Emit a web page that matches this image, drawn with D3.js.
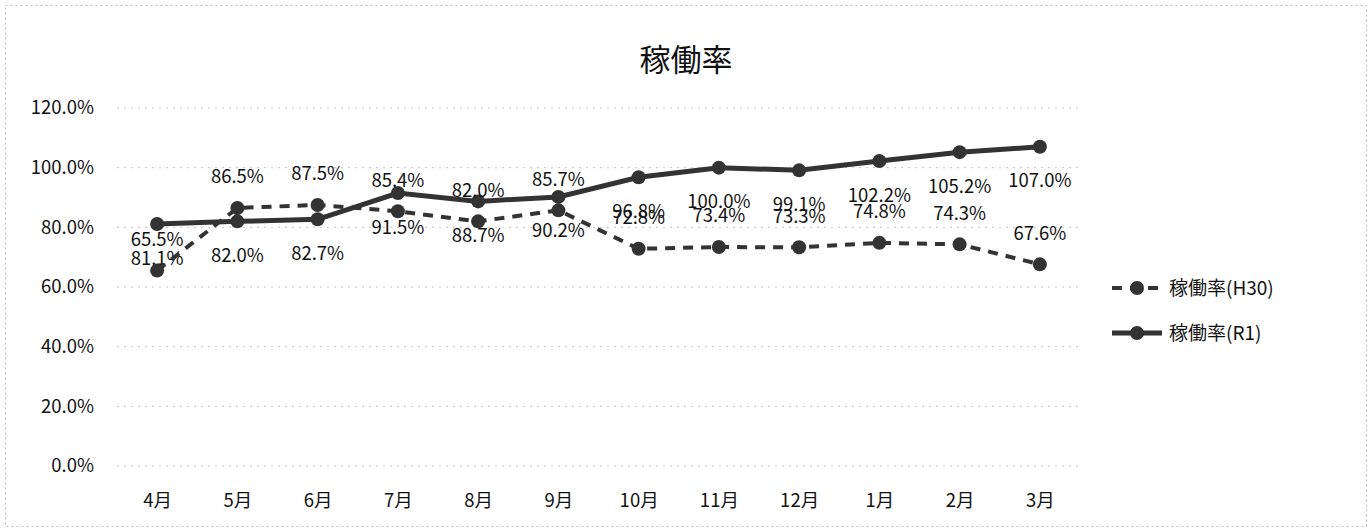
<!DOCTYPE html>
<html>
<head>
<meta charset="utf-8">
<script src="https://cdn.jsdelivr.net/npm/d3@7"></script>
<style>
  body { margin: 0; background: #fff; }
  #viz { width: 1372px; height: 532px; }
  text { font-family: "Noto Sans CJK JP", "Noto Sans", sans-serif; fill: #111; }
</style>
</head>
<body>
<div id="viz"></div>
<script>
// data
var months = ["4月", "5月", "6月", "7月", "8月", "9月", "10月", "11月", "12月", "1月", "2月", "3月"];
var h30 = [65.5, 86.5, 87.5, 85.4, 82.0, 85.7, 72.8, 73.4, 73.3, 74.8, 74.3, 67.6];
var r1 = [81.1, 82.0, 82.7, 91.5, 88.7, 90.2, 96.8, 100.0, 99.1, 102.2, 105.2, 107.0];
var yTicks = [0, 20, 40, 60, 80, 100, 120];
var seriesNames = ["稼働率(H30)", "稼働率(R1)"];

var width = 1372, height = 532;
var margin = {top: 108, right: 292, bottom: 66, left: 117};
var lineColor = "#333";

var svg = d3.select("#viz").append("svg")
    .attr("width", width)
    .attr("height", height);

// outer chart border
svg.append("rect")
    .attr("x", 5.5).attr("y", 5.5)
    .attr("width", width - 11).attr("height", height - 11)
    .attr("fill", "none")
    .attr("stroke", "#bbb")
    .attr("stroke-dasharray", "2,3");

svg.append("text")
    .attr("x", 686).attr("y", 71)
    .attr("text-anchor", "middle")
    .attr("font-size", 31)
    .text("稼働率");

var x = d3.scalePoint()
    .domain(months)
    .range([margin.left, width - margin.right])
    .padding(0.5);

var y = d3.scaleLinear()
    .domain([0, 120])
    .range([height - margin.bottom, margin.top]);

/* gridlines */
var grid = svg.append("g").attr("class", "grid");
grid.selectAll("line")
    .data(yTicks)
    .enter().append("line")
    .attr("x1", margin.left).attr("x2", width - margin.right)
    .attr("y1", function(d) { return y(d); })
    .attr("y2", function(d) { return y(d); })
    .attr("stroke", "#c4c4c4")
    .attr("stroke-dasharray", "2,5");

/* axes */
var yAxis = svg.append("g")
    .attr("transform", "translate(" + (margin.left - 20) + ",0)")
    .call(d3.axisLeft(y).tickValues(yTicks).tickSize(0).tickFormat(function(d) { return d.toFixed(1) + "%"; }));
yAxis.select(".domain").remove();
yAxis.selectAll("text").attr("font-size", 18.5).attr("fill", "#111");

var xAxis = svg.append("g")
    .attr("transform", "translate(0," + (height - margin.bottom + 21) + ")")
    .call(d3.axisBottom(x).tickSize(0));
xAxis.select(".domain").remove();
xAxis.selectAll("text").attr("font-size", 18.5).attr("fill", "#111").attr("dy", "0.9em");

/* series */
var line = d3.line()
    .x(function(d, i) { return x(months[i]); })
    .y(function(d) { return y(d); });

function drawSeries(values, dash, width, labelDy) {
  var g = svg.append("g");
  g.append("path")
      .datum(values)
      .attr("d", line)
      .attr("fill", "none")
      .attr("stroke", lineColor)
      .attr("stroke-width", width)
      .attr("stroke-dasharray", dash);
  g.selectAll("circle")
      .data(values)
      .enter().append("circle")
      .attr("cx", function(d, i) { return x(months[i]); })
      .attr("cy", function(d) { return y(d); })
      .attr("r", 7)
      .attr("fill", lineColor);
  g.selectAll("text")
      .data(values)
      .enter().append("text")
      .attr("x", function(d, i) { return x(months[i]); })
      .attr("y", function(d) { return y(d) + labelDy; })
      .attr("dy", "0.35em")
      .attr("text-anchor", "middle")
      .attr("font-size", 18.5)
      .text(function(d) { return d.toFixed(1) + "%"; });
}

drawSeries(r1, null, 5, 34);
drawSeries(h30, "10,8", 4, -31);

/* legend */
var legend = svg.append("g").attr("transform", "translate(1112,0)");
[{y: 288, dash: "10,8", w: 4}, {y: 333, dash: null, w: 5}].forEach(function(l, i) {
  legend.append("line")
      .attr("x1", 0).attr("x2", 50)
      .attr("y1", l.y).attr("y2", l.y)
      .attr("stroke", lineColor)
      .attr("stroke-width", l.w)
      .attr("stroke-dasharray", l.dash);
  legend.append("circle")
      .attr("cx", 25).attr("cy", l.y).attr("r", 7)
      .attr("fill", lineColor);
  legend.append("text")
      .attr("x", 57).attr("y", l.y)
      .attr("dy", "0.35em")
      .attr("font-size", 19)
      .text(seriesNames[i]);
});
</script>
</body>
</html>
